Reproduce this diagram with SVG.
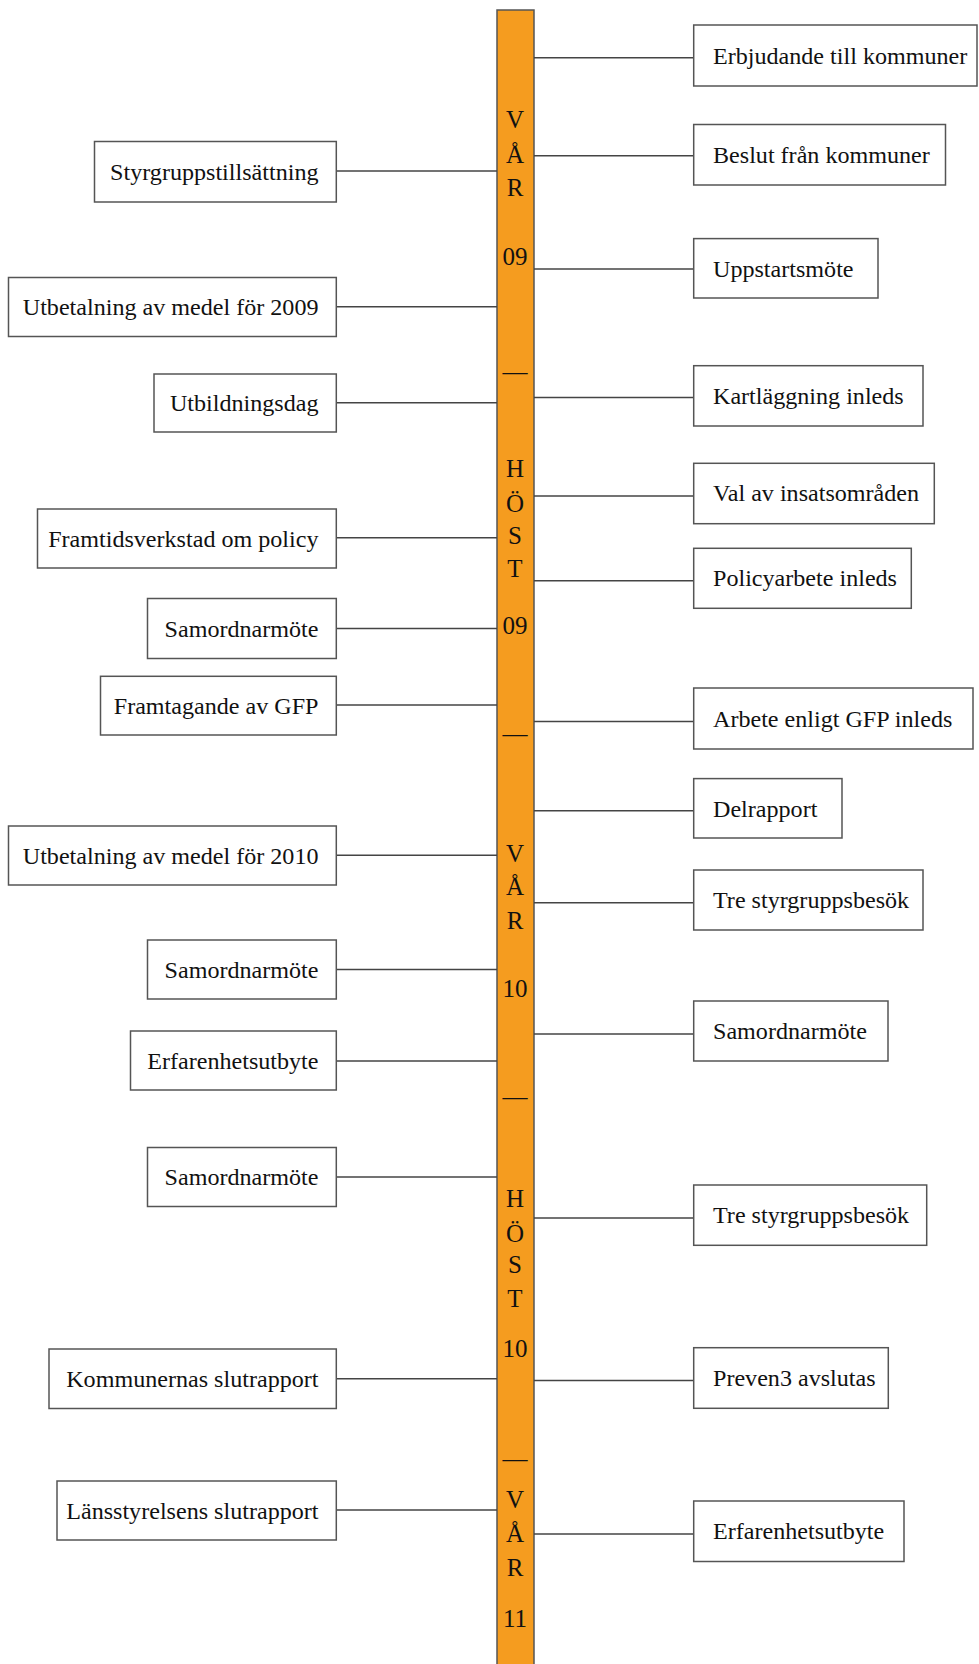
<svg xmlns="http://www.w3.org/2000/svg" width="979" height="1664" viewBox="0 0 979 1664">
<style>
.box{fill:#fff;stroke:#555;stroke-width:1.5}
.t{font-family:"Liberation Serif","Times New Roman",serif;font-size:24.1px;fill:#111}
.l{text-anchor:end}
.bar{fill:#F59C1F;stroke:#555;stroke-width:1.5}
.bt{font-family:"Liberation Serif","Times New Roman",serif;font-size:25px;fill:#111;text-anchor:middle}
.c line{stroke:#444;stroke-width:1.5}
</style>
<rect width="979" height="1664" fill="#fff"/>
<g id="timeline">
<rect class="bar" x="497" y="10" width="37" height="1670"/>
<text class="bt" x="515" y="128.3">V</text>
<text class="bt" x="515" y="162.7">Å</text>
<text class="bt" x="515" y="196">R</text>
<text class="bt" x="515" y="265">09</text>
<text class="bt" x="515" y="379.5">—</text>
<text class="bt" x="515" y="476.7">H</text>
<text class="bt" x="515" y="511.7">Ö</text>
<text class="bt" x="515" y="544">S</text>
<text class="bt" x="515" y="577.3">T</text>
<text class="bt" x="515" y="634">09</text>
<text class="bt" x="515" y="742.2">—</text>
<text class="bt" x="515" y="861.7">V</text>
<text class="bt" x="515" y="895">Å</text>
<text class="bt" x="515" y="929.3">R</text>
<text class="bt" x="515" y="996.7">10</text>
<text class="bt" x="515" y="1104.9">—</text>
<text class="bt" x="515" y="1206.7">H</text>
<text class="bt" x="515" y="1241.7">Ö</text>
<text class="bt" x="515" y="1273.3">S</text>
<text class="bt" x="515" y="1307.3">T</text>
<text class="bt" x="515" y="1356.7">10</text>
<text class="bt" x="515" y="1467.2">—</text>
<text class="bt" x="515" y="1508.3">V</text>
<text class="bt" x="515" y="1541.7">Å</text>
<text class="bt" x="515" y="1575.7">R</text>
<text class="bt" x="515" y="1626.7">11</text>
</g>
<g id="connectors" class="c">
<line x1="534" y1="57.7" x2="693.7" y2="57.7"/>
<line x1="534" y1="155.7" x2="693.7" y2="155.7"/>
<line x1="534" y1="269" x2="693.7" y2="269"/>
<line x1="534" y1="397.5" x2="693.7" y2="397.5"/>
<line x1="534" y1="496" x2="693.7" y2="496"/>
<line x1="534" y1="580.7" x2="693.7" y2="580.7"/>
<line x1="534" y1="721.5" x2="693.7" y2="721.5"/>
<line x1="534" y1="810.7" x2="693.7" y2="810.7"/>
<line x1="534" y1="902.7" x2="693.7" y2="902.7"/>
<line x1="534" y1="1034" x2="693.7" y2="1034"/>
<line x1="534" y1="1218" x2="693.7" y2="1218"/>
<line x1="534" y1="1380.5" x2="693.7" y2="1380.5"/>
<line x1="534" y1="1534" x2="693.7" y2="1534"/>
<line x1="336.3" y1="171" x2="497" y2="171"/>
<line x1="336.3" y1="306.7" x2="497" y2="306.7"/>
<line x1="336.3" y1="402.7" x2="497" y2="402.7"/>
<line x1="336.3" y1="537.7" x2="497" y2="537.7"/>
<line x1="336.3" y1="628.5" x2="497" y2="628.5"/>
<line x1="336.3" y1="705" x2="497" y2="705"/>
<line x1="336.3" y1="855.3" x2="497" y2="855.3"/>
<line x1="336.3" y1="969.5" x2="497" y2="969.5"/>
<line x1="336.3" y1="1061" x2="497" y2="1061"/>
<line x1="336.3" y1="1177" x2="497" y2="1177"/>
<line x1="336.3" y1="1378.7" x2="497" y2="1378.7"/>
<line x1="336.3" y1="1510" x2="497" y2="1510"/>
</g>
<g id="r1"><rect class="box" x="693.7" y="25" width="283.3" height="61"/><text class="t" x="713" y="64">Erbjudande till kommuner</text></g>
<g id="r2"><rect class="box" x="693.7" y="124.5" width="251.8" height="60.5"/><text class="t" x="713" y="162.5">Beslut från kommuner</text></g>
<g id="r3"><rect class="box" x="693.7" y="238.6" width="184.3" height="59.4"/><text class="t" x="713" y="276.6">Uppstartsmöte</text></g>
<g id="r4"><rect class="box" x="693.7" y="365.7" width="229.3" height="60.3"/><text class="t" x="713" y="403.5">Kartläggning inleds</text></g>
<g id="r5"><rect class="box" x="693.7" y="463.3" width="240.6" height="60.4"/><text class="t" x="713" y="501.3">Val av insatsområden</text></g>
<g id="r6"><rect class="box" x="693.7" y="548.3" width="217.6" height="60"/><text class="t" x="713" y="586.3">Policyarbete inleds</text></g>
<g id="r7"><rect class="box" x="693.7" y="688" width="279.3" height="61"/><text class="t" x="713" y="726.5">Arbete enligt GFP inleds</text></g>
<g id="r8"><rect class="box" x="693.7" y="778.6" width="148.3" height="59.4"/><text class="t" x="713" y="816.6">Delrapport</text></g>
<g id="r9"><rect class="box" x="693.7" y="870" width="229.3" height="60"/><text class="t" x="713" y="908">Tre styrgruppsbesök</text></g>
<g id="r10"><rect class="box" x="693.7" y="1001" width="194.3" height="60"/><text class="t" x="713" y="1039">Samordnarmöte</text></g>
<g id="r11"><rect class="box" x="693.7" y="1185" width="233" height="60.3"/><text class="t" x="713" y="1223">Tre styrgruppsbesök</text></g>
<g id="r12"><rect class="box" x="693.7" y="1347.7" width="194.6" height="60.6"/><text class="t" x="713" y="1385.7">Preven3 avslutas</text></g>
<g id="r13"><rect class="box" x="693.7" y="1501" width="210.3" height="60.5"/><text class="t" x="713" y="1539">Erfarenhetsutbyte</text></g>
<g id="l1"><rect class="box" x="94.5" y="141.5" width="241.8" height="60.5"/><text class="t l" x="318.5" y="179.8">Styrgruppstillsättning</text></g>
<g id="l2"><rect class="box" x="8.5" y="277.5" width="327.8" height="59"/><text class="t l" x="318.5" y="315">Utbetalning av medel för 2009</text></g>
<g id="l3"><rect class="box" x="154" y="374" width="182.3" height="58"/><text class="t l" x="318.5" y="411">Utbildningsdag</text></g>
<g id="l4"><rect class="box" x="37.5" y="509" width="298.8" height="59"/><text class="t l" x="318.5" y="546.5">Framtidsverkstad om policy</text></g>
<g id="l5"><rect class="box" x="147.5" y="598.5" width="188.8" height="60"/><text class="t l" x="318.5" y="636.5">Samordnarmöte</text></g>
<g id="l6"><rect class="box" x="100.5" y="676.3" width="235.8" height="58.7"/><text class="t l" x="318.5" y="713.8">Framtagande av GFP</text></g>
<g id="l7"><rect class="box" x="8.5" y="826" width="327.8" height="59"/><text class="t l" x="318.5" y="863.5">Utbetalning av medel för 2010</text></g>
<g id="l8"><rect class="box" x="147.5" y="940" width="188.8" height="59"/><text class="t l" x="318.5" y="977.5">Samordnarmöte</text></g>
<g id="l9"><rect class="box" x="130.5" y="1031" width="205.8" height="59"/><text class="t l" x="318.5" y="1068.5">Erfarenhetsutbyte</text></g>
<g id="l10"><rect class="box" x="147.5" y="1147.5" width="188.8" height="59"/><text class="t l" x="318.5" y="1185">Samordnarmöte</text></g>
<g id="l11"><rect class="box" x="49" y="1349" width="287.3" height="59.5"/><text class="t l" x="318.5" y="1386.7">Kommunernas slutrapport</text></g>
<g id="l12"><rect class="box" x="57" y="1481" width="279.3" height="59"/><text class="t l" x="318.5" y="1518.5">Länsstyrelsens slutrapport</text></g>
</svg>
